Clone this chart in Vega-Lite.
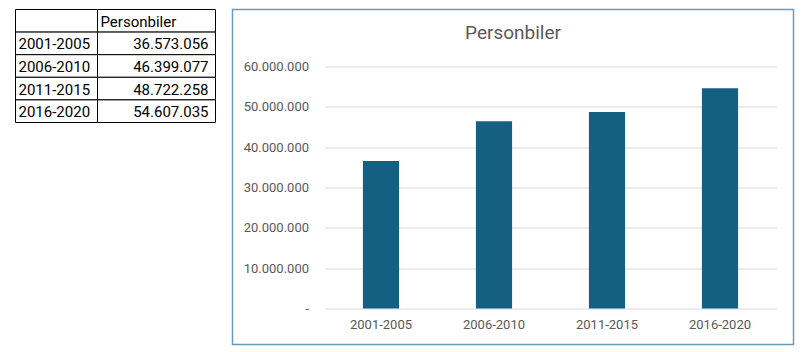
{
  "$schema": "https://vega.github.io/schema/vega-lite/v6.json",
  "padding": {"left": 14.5, "top": 8.5, "right": 0, "bottom": 0},
  "background": "white",
  "config": {
    "locale": {"number": {"decimal": ",", "thousands": ".", "grouping": [3], "currency": ["", " kr."]}},
    "font": "Roboto",
    "view": {"stroke": null}
  },
  "datasets": {
    "cars": [
      {"period": "2001-2005", "value": 36573056},
      {"period": "2006-2010", "value": 46399077},
      {"period": "2011-2015", "value": 48722258},
      {"period": "2016-2020", "value": 54607035}
    ],
    "header": [
      {"period": "Header", "name": "Personbiler"}
    ]
  },
  "spacing": 15,
  "hconcat": [
    {
      "spacing": 0,
      "bounds": "flush",
      "hconcat": [
        {
          "width": 82,
          "height": 113,
          "encoding": {
            "x": {"datum": "A", "type": "nominal", "scale": {"paddingInner": 0, "paddingOuter": 0}, "axis": null},
            "y": {"field": "period", "type": "nominal", "sort": null, "scale": {"domain": ["Header", "2001-2005", "2006-2010", "2011-2015", "2016-2020"], "paddingInner": 0, "paddingOuter": 0}, "axis": null}
          },
          "layer": [
            {"data": {"name": "header"}, "mark": {"type": "rect", "fill": "white", "stroke": "#000000", "strokeWidth": 1}},
            {"data": {"name": "cars"}, "mark": {"type": "rect", "fill": "white", "stroke": "#000000", "strokeWidth": 1}},
            {
              "data": {"name": "cars"},
              "mark": {"type": "text", "align": "left", "baseline": "middle", "dx": 3, "dy": 1, "fontSize": 15, "color": "#000000"},
              "encoding": {
                "x": {"datum": "A", "type": "nominal", "bandPosition": 0},
                "text": {"field": "period", "type": "nominal"}
              }
            }
          ]
        },
        {
          "width": 118,
          "height": 113,
          "encoding": {
            "x": {"datum": "B", "type": "nominal", "scale": {"paddingInner": 0, "paddingOuter": 0}, "axis": null},
            "y": {"field": "period", "type": "nominal", "sort": null, "scale": {"domain": ["Header", "2001-2005", "2006-2010", "2011-2015", "2016-2020"], "paddingInner": 0, "paddingOuter": 0}, "axis": null}
          },
          "layer": [
            {"data": {"name": "header"}, "mark": {"type": "rect", "fill": "white", "stroke": "#000000", "strokeWidth": 1}},
            {"data": {"name": "cars"}, "mark": {"type": "rect", "fill": "white", "stroke": "#000000", "strokeWidth": 1}},
            {
              "data": {"name": "header"},
              "mark": {"type": "text", "align": "left", "baseline": "middle", "dx": 3, "dy": 1, "fontSize": 15, "color": "#000000"},
              "encoding": {
                "x": {"datum": "B", "type": "nominal", "bandPosition": 0},
                "text": {"field": "name", "type": "nominal"}
              }
            },
            {
              "data": {"name": "cars"},
              "mark": {"type": "text", "align": "right", "baseline": "middle", "dx": -7, "dy": 1, "fontSize": 15, "color": "#000000"},
              "encoding": {
                "x": {"datum": "B", "type": "nominal", "bandPosition": 1},
                "text": {"field": "value", "type": "quantitative", "format": ",d"}
              }
            }
          ]
        }
      ]
    },
    {
      "width": 561,
      "height": 335,
      "view": {"stroke": "#6a9bbd", "strokeWidth": 1.5},
      "title": {"text": "Personbiler", "fontSize": 19, "fontWeight": "normal", "color": "#595959", "font": "Roboto", "offset": -33, "anchor": "middle"},
      "data": {"name": "cars"},
      "mark": {"type": "bar", "color": "#156082"},
      "encoding": {
        "x": {
          "field": "period", "type": "nominal", "sort": null,
          "scale": {"range": [92, 544], "paddingInner": 0.68, "paddingOuter": 0.34},
          "axis": {"title": null, "orient": "bottom", "offset": -36, "domain": false, "ticks": false, "labelAngle": 0, "labelPadding": 10, "labelFontSize": 13, "labelColor": "#595959", "labelFont": "Roboto", "grid": false}
        },
        "y": {
          "field": "value", "type": "quantitative",
          "scale": {"domain": [0, 60000000], "range": [299, 57], "nice": false, "zero": true},
          "axis": {"title": null, "orient": "left", "offset": -92, "values": [0, 10000000, 20000000, 30000000, 40000000, 50000000, 60000000], "format": ",d", "labelExpr": "datum.value === 0 ? '-' : datum.label", "domain": false, "ticks": false, "labelPadding": 16, "labelFontSize": 13, "labelColor": "#595959", "labelFont": "Roboto", "grid": true, "gridColor": "#d9d9d9", "gridWidth": 1}
        }
      }
    }
  ]
}
